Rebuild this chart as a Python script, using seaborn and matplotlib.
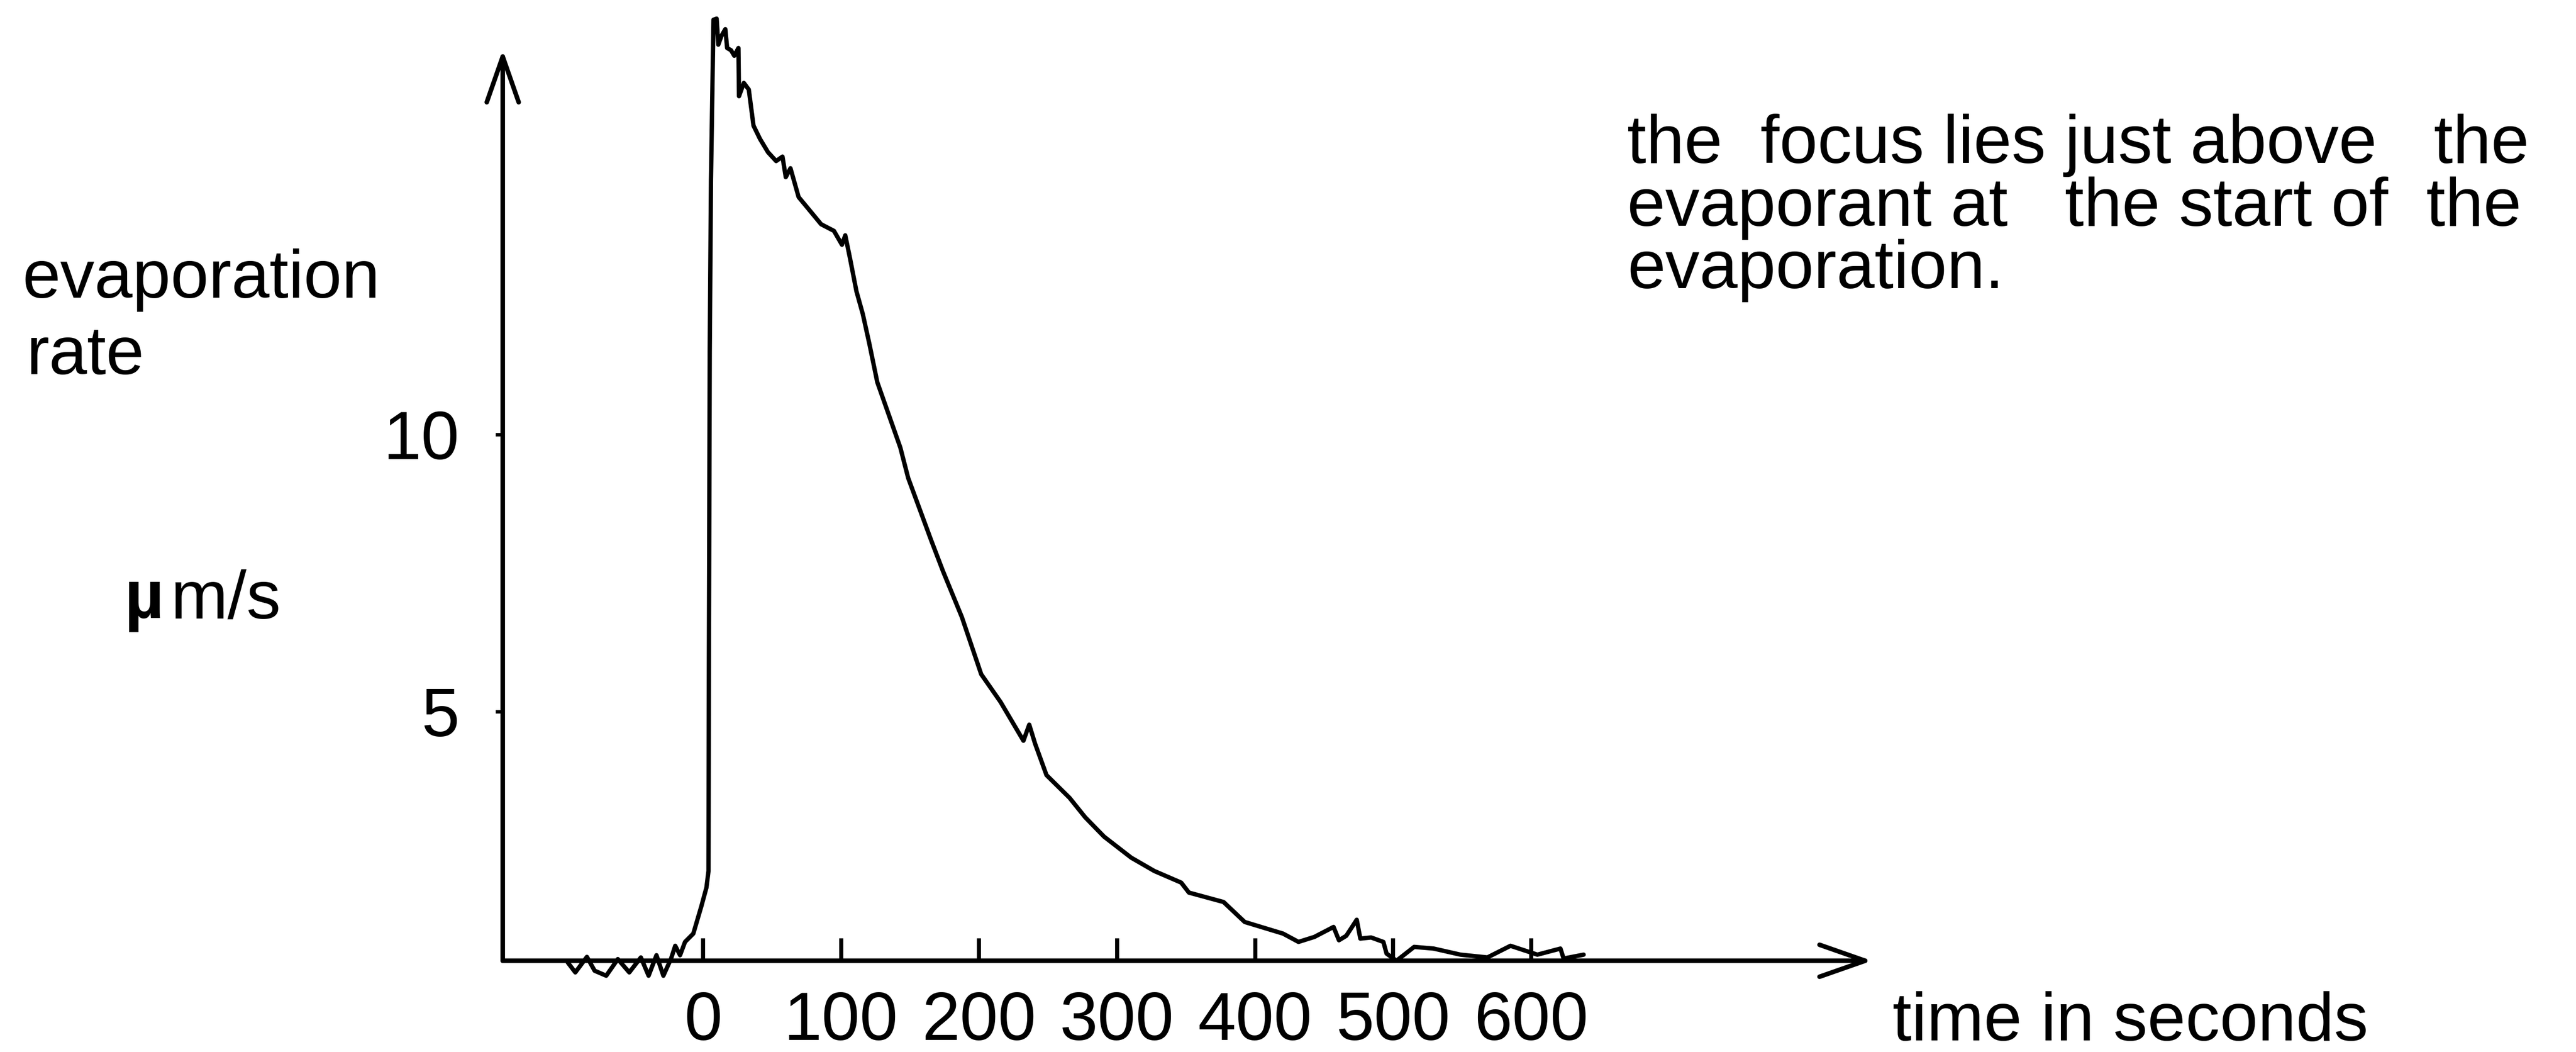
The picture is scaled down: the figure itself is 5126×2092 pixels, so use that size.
import matplotlib
matplotlib.use("Agg")
import matplotlib.pyplot as plt
import seaborn as sns
import pandas as pd

# ------------------------------------------------------------------
# values (time in s, rate in um/s)
# ------------------------------------------------------------------
time_s = [-98.1, -92.6, -84.2, -78.6, -70.2, -61.8, -53.5, -45.1, -39.5, -33.8,
          -28.8, -23.2, -20.2, -16.7, -13.1, -7.1, -1.2, 2.4, 3.9, 4.2,
          4.8, 5.7, 7.5, 9.8, 11.0, 13.3, 16.1, 17.4, 20.2, 22.6,
          25.6, 26.0, 29.5, 33.1, 36.5, 41.2, 47.0, 52.9, 57.5, 59.9,
          63.3, 69.2, 76.2, 85.5, 94.8, 100.6, 103.0, 106.4, 111.1, 115.7,
          120.4, 126.2, 142.9, 148.6, 165.2, 173.8, 187.5, 201.5, 215.5, 232.1,
          236.3, 240.5, 248.8, 265.5, 276.8, 290.5, 310.2, 326.9, 346.4, 352.0,
          377.1, 392.4, 420.2, 431.4, 442.9, 456.8, 460.7, 466.0, 473.6, 476.2,
          484.0, 492.9, 495.2, 502.4, 515.2, 529.3, 548.8, 568.3, 585.0, 604.5,
          621.2, 623.5, 638.0]
rate_um_s = [0.47, 0.29, 0.57, 0.32, 0.23, 0.53, 0.29, 0.56, 0.23, 0.60,
             0.23, 0.54, 0.77, 0.60, 0.84, 0.99, 1.49, 1.82, 2.12, 5.98,
             11.49, 14.60, 17.48, 17.50, 17.03, 17.19, 17.31, 16.97, 16.93, 16.83,
             16.97, 16.10, 16.34, 16.22, 15.57, 15.33, 15.09, 14.93, 15.01, 14.64,
             14.80, 14.28, 14.07, 13.79, 13.67, 13.42, 13.59, 13.18, 12.58, 12.17,
             11.64, 10.94, 9.76, 9.21, 8.09, 7.53, 6.70, 5.67, 5.17, 4.47,
             4.76, 4.42, 3.85, 3.44, 3.09, 2.74, 2.36, 2.12, 1.91, 1.73,
             1.56, 1.20, 0.99, 0.84, 0.93, 1.11, 0.87, 0.95, 1.24, 0.90,
             0.92, 0.84, 0.63, 0.50, 0.75, 0.72, 0.61, 0.56, 0.77, 0.61,
             0.72, 0.54, 0.61]

x_ticks = [0, 100, 200, 300, 400, 500, 600]
y_ticks = [5, 10]

y_title = ["evaporation", "rate"]
x_title = "time in seconds"
note_lines = ["the  focus lies just above   the",
              "evaporant at   the start of  the",
              "evaporation."]

df = pd.DataFrame({"time": time_s, "rate": rate_um_s})

# ------------------------------------------------------------------
# figure
# ------------------------------------------------------------------
sns.set_theme(style="white")
plt.rcParams["font.family"] = ["Liberation Sans", "DejaVu Sans"]

FS = 30
W, H = 1568, 640          # layout grid used for placing the texts

fig = plt.figure(figsize=(15.68, 6.4), dpi=326.92)
ax = fig.add_axes([306 / W, 1 - 584.5 / H, (1139.5 - 306) / W, (584.5 - 30.3) / H])

sns.lineplot(data=df, x="time", y="rate", ax=ax, color="black",
             linewidth=1.9, sort=False, estimator=None)
for ln in ax.lines:
    ln.set_clip_on(False)

ax.set_xlim(-145.2, 847.0)
ax.set_ylim(0.5, 16.94)
for s in ax.spines.values():
    s.set_visible(False)

# hand-drawn style axes with open arrow heads
arrow = dict(arrowstyle="->,head_length=20,head_width=7", mutation_scale=1,
             lw=2.0, color="black", shrinkA=0, shrinkB=0)
ax.annotate("", xy=(1, 0), xytext=(0, 0), xycoords="axes fraction",
            textcoords="axes fraction", arrowprops=arrow)
ax.annotate("", xy=(0, 1), xytext=(0, 0), xycoords="axes fraction",
            textcoords="axes fraction", arrowprops=arrow)

ax.set_xticks(x_ticks)
ax.set_xticklabels([str(t) for t in x_ticks])
ax.set_yticks(y_ticks)
ax.set_yticklabels([str(t) for t in y_ticks])
ax.tick_params(axis="x", bottom=True, direction="in", length=10, width=1.8,
               pad=13, labelsize=FS, colors="black")
ax.tick_params(axis="y", left=True, direction="out", length=3, width=1.5,
               pad=16, labelsize=FS, colors="black")
ax.set_xlabel("")
ax.set_ylabel("")

# axis titles and note, placed like in the original sheet
def put(x, y, s, **kw):
    fig.text(x / W, 1 - y / H, s, fontsize=FS, color="black",
             ha="left", va="baseline", **kw)

put(13.6, 181, y_title[0])
put(16, 227.7, y_title[1])
put(75.6, 376, "\u00b5", fontweight="bold")
put(104, 376, "m/s")
put(1152, 633, x_title)
for i, line in enumerate(note_lines):
    put(990.6, 99 + 38.2 * i, line)

fig.savefig("out.png", dpi=fig.dpi, facecolor="white")
